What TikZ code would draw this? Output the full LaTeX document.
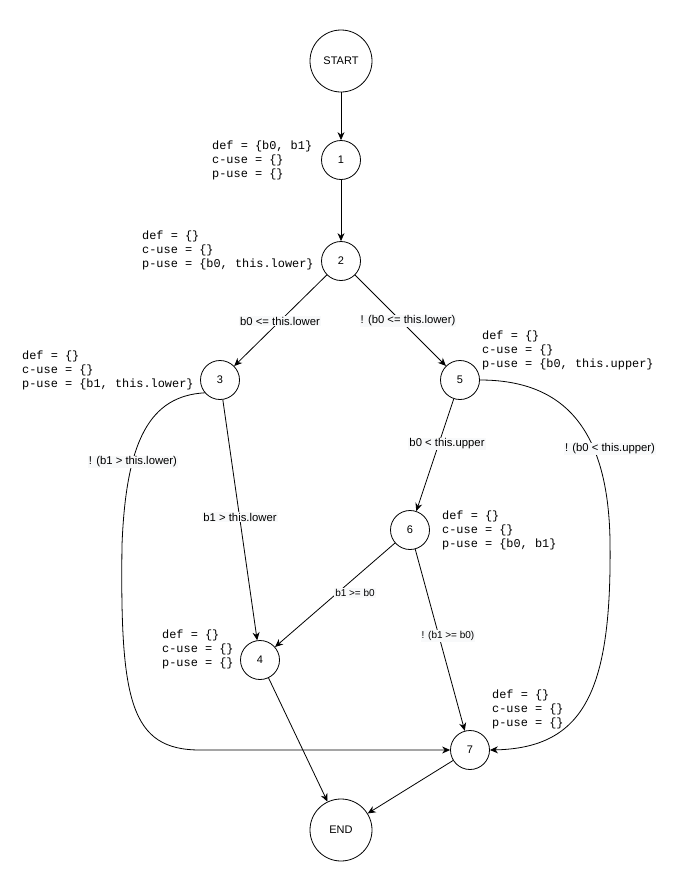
\documentclass[tikz,border=0pt]{standalone}
\usepackage{fontspec}
\setmainfont{Liberation Sans}
\newfontfamily\annfont{Liberation Mono}
\usetikzlibrary{arrows.meta}
\definecolor{lblbg}{RGB}{248,249,250}
\tikzset{
  bignode/.style={circle,draw,line width=0.8pt,minimum size=62pt,inner sep=0pt,font=\fontsize{11}{13}\selectfont},
  smallnode/.style={circle,draw,line width=0.8pt,minimum size=39pt,inner sep=0pt,font=\fontsize{11}{13}\selectfont},
  edge/.style={draw,line width=0.8pt,-{Stealth[length=8pt,width=7pt]}},
  elabel/.style={fill=lblbg,inner sep=1pt,font=\fontsize{11.3}{13}\selectfont},
  ann/.style={anchor=north west,align=left,inner sep=0pt,font=\annfont\fontsize{11.9}{13.6}\selectfont}
}
\begin{document}
\begin{tikzpicture}[x=1pt,y=-1pt]
\useasboundingbox (0,0) rectangle (681,881);
\node[bignode] (start) at (341,61) {START};
\node[smallnode] (n1) at (341,160) {1};
\node[smallnode] (n2) at (341,261) {2};
\node[smallnode] (n3) at (220,380) {3};
\node[smallnode] (n5) at (460,380) {5};
\node[smallnode] (n6) at (410,530) {6};
\node[smallnode] (n4) at (260,660) {4};
\node[smallnode] (n7) at (470,750) {7};
\node[bignode] (end) at (341,830) {END};

\node[ann] (a1) at (212,141) {def = \{b0, b1\}\\c-use = \{\}\\p-use = \{\}};
\node[ann] (a2) at (142,231) {def = \{\}\\c-use = \{\}\\p-use = \{b0, this.lower\}};
\node[ann] (a3) at (22,351) {def = \{\}\\c-use = \{\}\\p-use = \{b1, this.lower\}};
\node[ann] (a5) at (482,331) {def = \{\}\\c-use = \{\}\\p-use = \{b0, this.upper\}};
\node[ann] (a6) at (442,511) {def = \{\}\\c-use = \{\}\\p-use = \{b0, b1\}};
\node[ann] (a4) at (162,630) {def = \{\}\\c-use = \{\}\\p-use = \{\}};
\node[ann] (a7) at (492,690) {def = \{\}\\c-use = \{\}\\p-use = \{\}};

\draw[edge] (start) -- (n1);
\draw[edge] (n1) -- (n2);
\draw[edge] (n2) -- (n3);
\draw[edge] (n2) -- (n5);
\draw[edge] (n3) -- (n4);
\draw[edge] (n5) -- (n6);
\draw[edge] (n6) -- (n4);
\draw[edge] (n6) -- (n7);
\draw[edge] (n4) -- (end);
\draw[edge] (n7) -- (end);
\draw[edge] (n3.220) .. controls (150,396) and (126,440) .. (122,545)
  .. controls (120,700) and (130,750) .. (200,750) -- (n7.west);
\draw[edge] (n5.east) .. controls (565,380) and (608,430) .. (610,540)
  .. controls (612,690) and (585,748) .. (n7.east);

\node[elabel] (l23) at (280,321) {b0 <= this.lower};
\node[elabel] (l25) at (408,321) {! (b0 <= this.lower)};
\node[elabel] (l34) at (240,517) {b1 > this.lower};
\node[elabel] (l37) at (133,462) {! (b1 > this.lower)};
\node[elabel] (l56) at (447,444) {b0 < this.upper};
\node[elabel] (l57) at (610,449) {! (b0 < this.upper)};
\node[elabel,font=\fontsize{10}{12}\selectfont] (l64) at (355,593) {b1 >= b0};
\node[elabel,font=\fontsize{10}{12}\selectfont] (l67) at (448,636) {! (b1 >= b0)};
\end{tikzpicture}
\end{document}
